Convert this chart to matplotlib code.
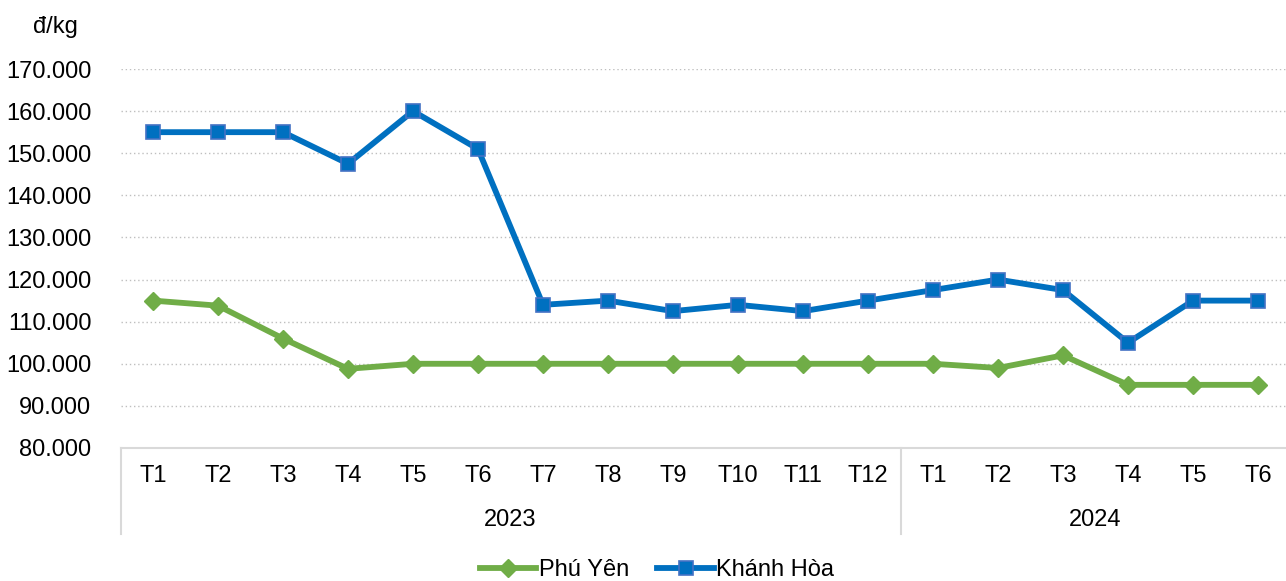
import matplotlib.pyplot as plt

plt.rcParams['font.family'] = ['Liberation Sans', 'DejaVu Sans']

# monthly prices (đ/kg)
months = ['T1', 'T2', 'T3', 'T4', 'T5', 'T6', 'T7', 'T8', 'T9', 'T10', 'T11', 'T12',
          'T1', 'T2', 'T3', 'T4', 'T5', 'T6']
years = ['2023', '2024']
year_len = [12, 6]
phu_yen = [115000, 113800, 106000, 98800, 100000, 100000, 100000, 100000, 100000,
           100000, 100000, 100000, 100000, 99000, 102000, 95000, 95000, 95000]
khanh_hoa = [155000, 155000, 155000, 147500, 160000, 151000, 114000, 115000, 112500,
             114000, 112500, 115000, 117500, 120000, 117500, 105000, 115000, 115000]

FS = 17
W, H = 1286, 581
fig = plt.figure(figsize=(W / 100, H / 100), dpi=100)
left, right, top, bottom = 120.5, 1286, 69, 448
ax = fig.add_axes([left / W, (H - bottom) / H, (right - left) / W, (bottom - top) / H])

x = list(range(len(months)))
ax.plot(x, phu_yen, color='#70AD47', lw=4.2, marker='D', ms=9,
        mfc='#70AD47', mec='#70AD47', label='Phú Yên', zorder=3)
ax.plot(x, khanh_hoa, color='#0070C0', lw=4.2, marker='s', ms=10.5,
        mfc='#0070C0', mec='#4472C4', mew=1.2, label='Khánh Hòa', zorder=4)

ax.set_xlim(-0.5, -0.5 + (right - left) / 65.0)
ax.set_ylim(80000, 170000)
yt = list(range(80000, 170001, 10000))
ax.set_yticks(yt)
ax.set_yticklabels([f'{v:,.0f}'.replace(',', '.') for v in yt], fontsize=FS)
ax.tick_params(axis='y', length=0, pad=21)
ax.set_xticks([])
for v in yt[1:]:
    ax.axhline(v, color='#BFBFBF', lw=1, ls=(0, (1, 2)), zorder=1)

for s in ['top', 'right', 'left']:
    ax.spines[s].set_visible(False)
ax.spines['bottom'].set_color('#D9D9D9')
ax.spines['bottom'].set_linewidth(1.5)

# two-level category axis
tr = ax.get_xaxis_transform()
ph = bottom - top
for i, m in enumerate(months):
    ax.text(i, -28 / ph, m, transform=tr, ha='center', va='center', fontsize=FS)
start = 0
seps = [-0.5]
for yname, n in zip(years, year_len):
    ax.text(start + (n - 1) / 2, -72 / ph, yname, transform=tr,
            ha='center', va='center', fontsize=FS)
    start += n
    seps.append(start - 0.5)
for sx in seps:
    ax.plot([sx, sx], [0, -86 / ph], transform=tr, color='#D9D9D9', lw=1.5,
            clip_on=False)

fig.text(55 / W, 1 - 27 / H, 'đ/kg', ha='center', va='center', fontsize=FS)

fig.legend(loc='center', bbox_to_anchor=(657 / W, 1 - 570 / H), ncol=2,
           frameon=False, fontsize=FS, handlelength=2.4, handletextpad=0.1,
           columnspacing=1.2)

fig.savefig('out.png', dpi=100)
